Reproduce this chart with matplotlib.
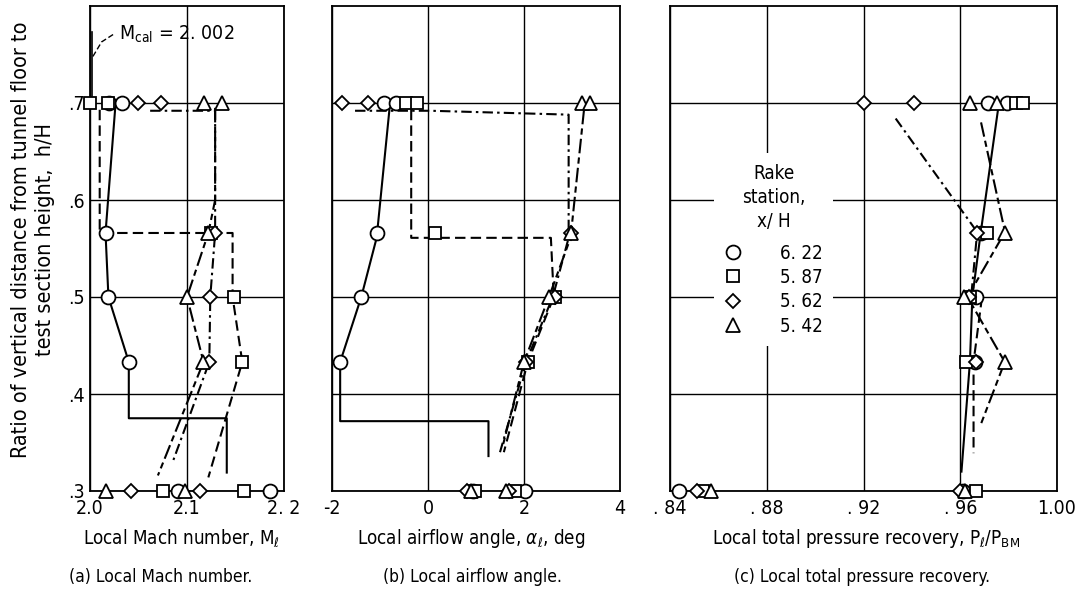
import matplotlib
matplotlib.use("Agg")
import matplotlib.pyplot as plt
from matplotlib.lines import Line2D

plt.rcParams['font.family'] = ['DejaVu Sans']
plt.rcParams['font.stretch'] = 'condensed'
plt.rcParams['mathtext.fontset'] = 'custom'
plt.rcParams['mathtext.rm'] = 'DejaVu Sans:stretch=condensed'
plt.rcParams['mathtext.it'] = 'DejaVu Sans:italic:stretch=condensed'
plt.rcParams['mathtext.bf'] = 'DejaVu Sans:bold:stretch=condensed'

# ---------------- data ----------------
stations = ["6. 22", "5. 87", "5. 62", "5. 42"]
markers = ["o", "s", "D", "^"]
msizes = [10, 9, 7.5, 10.5]

# rake heights h/H for each measured point (two probes at the ends)
h_pts = [0.7, 0.7, 0.566, 0.5, 0.433, 0.3, 0.3]

# (a) Local Mach number
mach_circle = [2.020, 2.033, 2.016, 2.019, 2.040, 2.091, 2.186]
mach_square = [2.000, 2.019, 2.125, 2.148, 2.157, 2.075, 2.159]
mach_diamond = [2.050, 2.073, 2.129, 2.124, 2.123, 2.042, 2.113]
mach_triangle = [2.118, 2.136, 2.122, 2.100, 2.117, 2.017, 2.098]

# (b) Local airflow angle, deg
ang_circle = [-0.92, -0.66, -1.07, -1.39, -1.83, 0.93, 2.02]
ang_square = [-0.45, -0.23, 0.15, 2.64, 2.08, 0.98, 1.81]
ang_diamond = [-1.80, -1.26, 2.97, 2.64, 2.04, 0.82, 1.68]
ang_triangle = [3.20, 3.38, 2.97, 2.52, 2.00, 0.90, 1.62]

# (c) Local total pressure recovery
pr_circle = [0.9716, 0.9795, 0.9685, 0.9664, 0.9660, 0.8437, 0.9613]
pr_square = [0.9830, 0.9860, 0.9710, 0.9640, 0.9625, 0.8536, 0.9665]
pr_diamond = [0.9200, 0.9410, 0.9670, 0.9635, 0.9664, 0.8510, 0.9600]
pr_triangle = [0.9640, 0.9750, 0.9785, 0.9617, 0.9784, 0.8570, 0.9620]

# faired curves (x values, h/H values)
fa_circle_x = [2.026, 2.016, 2.019, 2.040, 2.040, 2.141, 2.141]
fa_circle_y = [0.695, 0.566, 0.500, 0.433, 0.375, 0.375, 0.319]
fa_square_x = [2.010, 2.010, 2.147, 2.147, 2.157, 2.122]
fa_square_y = [0.693, 0.566, 0.566, 0.500, 0.433, 0.314]
fa_diamond_x = [2.062, 2.129, 2.129, 2.124, 2.123, 2.086]
fa_diamond_y = [0.692, 0.692, 0.566, 0.500, 0.433, 0.332]
fa_triangle_x = [2.129, 2.129, 2.122, 2.100, 2.117, 2.070]
fa_triangle_y = [0.695, 0.600, 0.566, 0.500, 0.433, 0.316]
mcal = 2.002
mcal_line_y = [0.703, 0.773]
mcal_leader_x = [2.003, 2.012, 2.026]
mcal_leader_y = [0.748, 0.763, 0.772]

fb_circle_x = [-0.80, -1.07, -1.39, -1.83, -1.83, 1.26, 1.26]
fb_circle_y = [0.695, 0.561, 0.500, 0.433, 0.372, 0.372, 0.336]
fb_square_x = [-0.35, -0.35, 0.15, 2.56, 2.62, 2.08, 1.58]
fb_square_y = [0.693, 0.561, 0.561, 0.561, 0.500, 0.433, 0.340]
fb_diamond_x = [-1.52, 0.05, 2.93, 2.93, 2.60, 2.04, 1.50]
fb_diamond_y = [0.692, 0.692, 0.688, 0.561, 0.500, 0.433, 0.340]
fb_triangle_x = [3.25, 2.97, 2.52, 2.00, 1.55]
fb_triangle_y = [0.693, 0.561, 0.500, 0.433, 0.345]

fc_circle_x = [0.9756, 0.9685, 0.9650, 0.9640, 0.9605]
fc_circle_y = [0.693, 0.567, 0.500, 0.433, 0.320]
fc_square_x = [0.9690, 0.9655, 0.9655]
fc_square_y = [0.500, 0.433, 0.339]
fc_diamond_x = [0.9333, 0.9670, 0.9645]
fc_diamond_y = [0.684, 0.567, 0.500]
fc_triangle_x = [0.9686, 0.9785, 0.9630, 0.9784, 0.9687]
fc_triangle_y = [0.680, 0.567, 0.500, 0.433, 0.370]

ytick_vals = [0.3, 0.4, 0.5, 0.6, 0.7]
ytick_labels = [".3", ".4", ".5", ".6", ".7"]
xa_ticks = [2.0, 2.1, 2.2]
xa_labels = ["2.0", "2.1", "2. 2"]
xb_ticks = [-2, 0, 2, 4]
xb_labels = ["-2", "0", "2", "4"]
xc_ticks = [0.84, 0.88, 0.92, 0.96, 1.00]
xc_labels = [". 84", ". 88", ". 92", ". 96", "1.00"]

# ---------------- style ----------------
LW = 1.5
styles = [
    dict(ls="-"),
    dict(dashes=(5, 2.5)),
    dict(dashes=(5, 2, 1.2, 2)),
    dict(dashes=(7, 2, 3, 2)),
]
FS = 13.5

W, H = 1086, 591
fig = plt.figure(figsize=(W / 100, H / 100), dpi=100)
fig.patch.set_facecolor("white")


def px_axes(x0, x1, y0, y1):
    return fig.add_axes([x0 / W, 1 - y1 / H, (x1 - x0) / W, (y1 - y0) / H])


ax_a = px_axes(90, 284, 6, 491)
ax_b = px_axes(332, 620, 6, 491)
ax_c = px_axes(670, 1057, 6, 491)

panels = [
    (ax_a, (2.0, 2.2), xa_ticks, xa_labels,
     [mach_circle, mach_square, mach_diamond, mach_triangle],
     [(fa_circle_x, fa_circle_y), (fa_square_x, fa_square_y),
      (fa_diamond_x, fa_diamond_y), (fa_triangle_x, fa_triangle_y)]),
    (ax_b, (-2, 4), xb_ticks, xb_labels,
     [ang_circle, ang_square, ang_diamond, ang_triangle],
     [(fb_circle_x, fb_circle_y), (fb_square_x, fb_square_y),
      (fb_diamond_x, fb_diamond_y), (fb_triangle_x, fb_triangle_y)]),
    (ax_c, (0.84, 1.00), xc_ticks, xc_labels,
     [pr_circle, pr_square, pr_diamond, pr_triangle],
     [(fc_circle_x, fc_circle_y), (fc_square_x, fc_square_y),
      (fc_diamond_x, fc_diamond_y), (fc_triangle_x, fc_triangle_y)]),
]

for ax, xlim, xt, xl, series, fairs in panels:
    ax.set_xlim(*xlim)
    ax.set_ylim(0.3, 0.8)
    ax.set_xticks(xt)
    ax.set_xticklabels(xl, fontsize=14)
    ax.set_yticks(ytick_vals)
    if ax is ax_a:
        ax.set_yticklabels(ytick_labels, fontsize=14)
    else:
        ax.set_yticklabels([])
    ax.tick_params(axis="x", length=0, pad=6)
    ax.tick_params(axis="y", length=0, pad=4)
    ax.grid(True, color="black", lw=1.0)
    ax.set_axisbelow(True)
    for sp in ax.spines.values():
        sp.set_linewidth(1.3)
    for (fx, fy), st in zip(fairs, styles):
        ax.plot(fx, fy, color="black", lw=LW, zorder=3, **st)
    for vals, m, ms in zip(series, markers, msizes):
        ax.plot(vals, h_pts, ls="none", marker=m, ms=ms, mfc="white",
                mec="black", mew=1.3, zorder=4, clip_on=False)

# M_cal annotation
ax_a.plot([mcal, mcal], mcal_line_y, color="black", lw=1.2, zorder=3)
ax_a.plot(mcal_leader_x, mcal_leader_y, color="black", lw=1.0,
          dashes=(4, 2), zorder=3)
ax_a.text(2.030, 0.771, r"M$_{\mathrm{cal}}$ = 2. 002", fontsize=14,
          va="center", ha="left")

# legend
handles = [Line2D([], [], ls="none", marker=m, ms=ms, mfc="white",
                  mec="black", mew=1.3) for m, ms in zip(markers, msizes)]
leg = ax_c.legend(handles, stations, title="Rake\nstation,\nx/ H",
                  loc="upper left", bbox_to_anchor=(0.113, 0.696),
                  frameon=True, fancybox=False, fontsize=FS,
                  title_fontsize=FS, handlelength=1.0, handletextpad=2.0,
                  labelspacing=0.28, borderpad=0.55, borderaxespad=0,
                  alignment="center")
leg.get_title().set_multialignment("center")
leg.get_title().set_linespacing(1.35)
leg._legend_box.sep = 9
leg.get_frame().set_edgecolor("none")
leg.get_frame().set_facecolor("white")
leg.get_frame().set_alpha(1)
leg.set_zorder(2)

# axis labels
fig.text(182 / W, 1 - 539 / H, r"Local Mach number, M$_{\ell}$",
         ha="center", va="center", fontsize=FS)
fig.text(471 / W, 1 - 539 / H, r"Local airflow angle, $\alpha_{\ell}$, deg",
         ha="center", va="center", fontsize=FS)
fig.text(866 / W, 1 - 539 / H,
         r"Local total pressure recovery, P$_{\ell}$/P$_{\mathrm{BM}}$",
         ha="center", va="center", fontsize=FS)

fig.text(161 / W, 1 - 577 / H, "(a) Local Mach number.",
         ha="center", va="center", fontsize=FS - 1)
fig.text(472 / W, 1 - 577 / H, "(b) Local airflow angle.",
         ha="center", va="center", fontsize=FS - 1)
fig.text(862 / W, 1 - 577 / H, "(c) Local total pressure recovery.",
         ha="center", va="center", fontsize=FS - 1)

fig.text(33 / W, 1 - 240 / H,
         "Ratio of vertical distance from tunnel floor to\n"
         "test section height,  h/H",
         rotation=90, ha="center", va="center", fontsize=15.5,
         multialignment="center", linespacing=1.2)

fig.savefig("out.png", dpi=100, facecolor="white")
